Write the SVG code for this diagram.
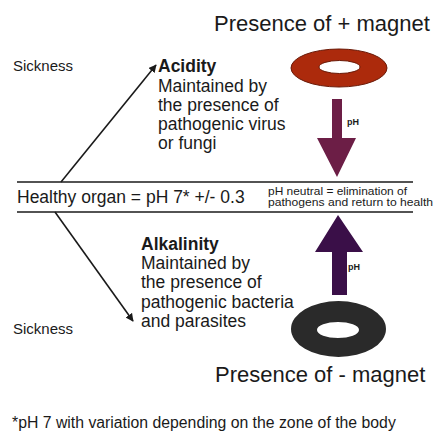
<svg xmlns="http://www.w3.org/2000/svg" width="444" height="444" viewBox="0 0 444 444">
<style>
text{font-family:"Liberation Sans",Arial,sans-serif;fill:#1a1a1a}
.t{font-size:17.5px}
.b{font-weight:bold}
.sm{font-size:15px}
.big{font-size:22px}
.ph{font-size:9px;font-weight:bold}
.ln{stroke:#1a1a1a;stroke-width:1.6;fill:none}
</style>
<defs>
<marker id="ah" viewBox="0 0 10 10" refX="9" refY="5" markerWidth="8" markerHeight="8" markerUnits="userSpaceOnUse" orient="auto">
<path d="M0,0 L10,5 L0,10 z" fill="#1a1a1a"/>
</marker>
</defs>
<rect width="444" height="444" fill="#fff"/>
<g id="connectors">
<line class="ln" x1="61" y1="182" x2="156" y2="65" marker-end="url(#ah)"/>
<line class="ln" x1="55" y1="212" x2="133" y2="321" marker-end="url(#ah)"/>
<line class="ln" x1="17" y1="182" x2="413" y2="182"/>
<line class="ln" x1="17" y1="212" x2="413" y2="212"/>
</g>
<g id="plus-magnet">
<text class="big" x="214" y="31">Presence of + magnet</text>
<path d="M291,68 a48,19 0 1,0 96,0 a48,19 0 1,0 -96,0 z M319,67 a20.5,6.5 0 1,1 41,0 a20.5,6.5 0 1,1 -41,0 z" fill="#ac2a0c" fill-rule="evenodd" stroke="#6a1a08" stroke-width="1"/>
</g>
<g id="arrow-down">
<path d="M332,99 H342 V138 H356 L337,177 L317,138 H332 Z" fill="#6c1e46"/>
<text class="ph" x="347" y="125">pH</text>
</g>
<g id="sickness-top">
<text class="sm" x="13" y="71">Sickness</text>
</g>
<g id="acidity">
<text class="t b" x="158" y="72">Acidity</text>
<text class="t" x="158" y="92">Maintained by</text>
<text class="t" x="158" y="111">the presence of</text>
<text class="t" x="158" y="130">pathogenic virus</text>
<text class="t" x="158" y="149">or fungi</text>
</g>
<g id="healthy">
<text class="t" x="17" y="203">Healthy organ = pH 7* +/- 0.3</text>
<text font-size="11" x="268" y="194.5" textLength="139" lengthAdjust="spacingAndGlyphs">pH neutral = elimination of</text>
<text font-size="11" x="268" y="206" textLength="165" lengthAdjust="spacingAndGlyphs">pathogens and return to health</text>
</g>
<g id="arrow-up">
<path d="M338,215 L363,252 H347 V295 H332 V252 H315 Z" fill="#3a0f48"/>
<text class="ph" x="348" y="270">pH</text>
</g>
<g id="alkalinity">
<text class="t b" x="141" y="250">Alkalinity</text>
<text class="t" x="141" y="269">Maintained by</text>
<text class="t" x="141" y="288">the presence of</text>
<text class="t" x="141" y="308">pathogenic bacteria</text>
<text class="t" x="141" y="327">and parasites</text>
</g>
<g id="sickness-bottom">
<text class="sm" x="13" y="334">Sickness</text>
</g>
<g id="minus-magnet">
<path d="M291,329 a47.5,28 0 1,0 95,0 a47.5,28 0 1,0 -95,0 z M317,330 a21,8 0 1,1 42,0 a21,8 0 1,1 -42,0 z" fill="#2a2a2a" fill-rule="evenodd"/>
<text class="big" x="215" y="382">Presence of - magnet</text>
</g>
<g id="footnote">
<text font-size="15.8" x="12" y="428">*pH 7 with variation depending on the zone of the body</text>
</g>
</svg>
